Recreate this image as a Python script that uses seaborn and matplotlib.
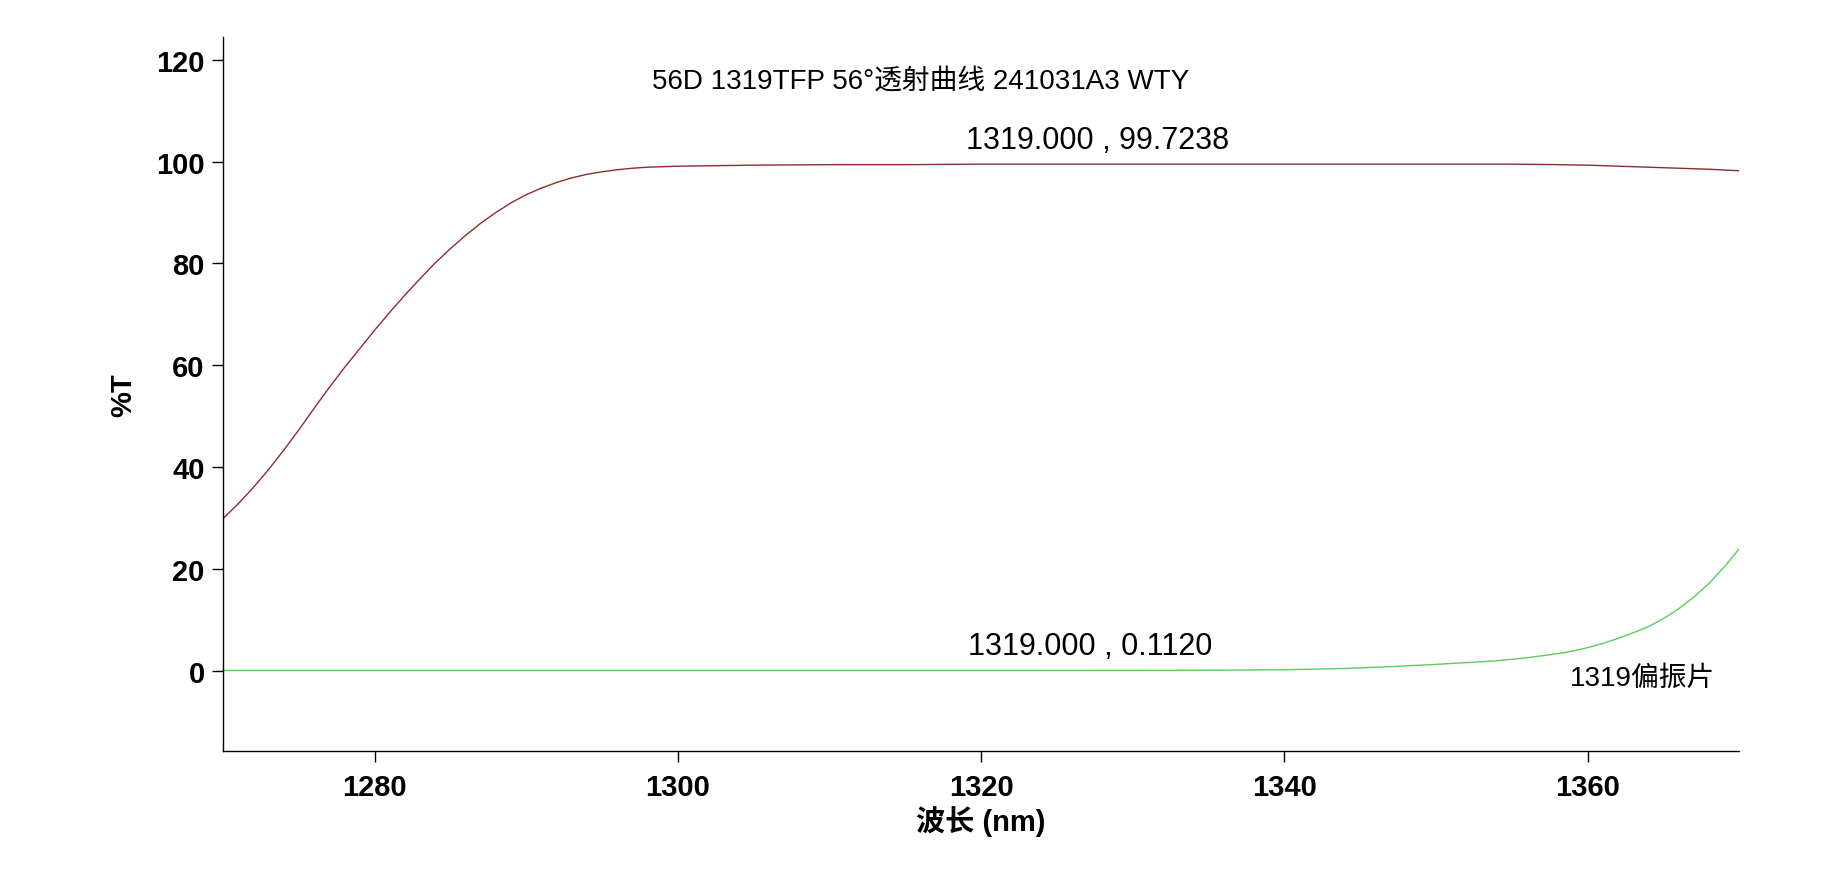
import numpy as np
import pandas as pd
import seaborn as sns
import matplotlib.pyplot as plt

# Dados (comprimento de onda em nm, transmissão em %)
wl_p = [1270, 1271, 1272, 1273, 1274, 1275, 1276, 1277, 1278, 1279,
        1280, 1281, 1282, 1283, 1284, 1285, 1286, 1287, 1288, 1289,
        1290, 1291, 1292, 1293, 1294, 1295, 1296, 1297, 1298, 1299,
        1300, 1305, 1310, 1315, 1320, 1330, 1340, 1350, 1355, 1358,
        1360, 1362, 1364, 1366, 1368, 1370]
t_p = [29.9, 32.8, 36.0, 39.5, 43.3, 47.3, 51.5, 55.6, 59.5, 63.2,
       66.9, 70.4, 73.8, 77.0, 80.1, 82.9, 85.5, 87.9, 90.0, 91.9,
       93.5, 94.8, 95.9, 96.8, 97.5, 98.0, 98.4, 98.7, 98.9, 99.0,
       99.1, 99.3, 99.4, 99.4, 99.5, 99.5, 99.5, 99.5, 99.5, 99.4,
       99.3, 99.1, 98.9, 98.7, 98.5, 98.2]

wl_s = [1270, 1280, 1290, 1300, 1310, 1320, 1330, 1335, 1340, 1344,
        1347, 1350, 1352, 1354, 1355, 1356, 1357, 1358, 1359, 1360,
        1361, 1362, 1363, 1364, 1365, 1366, 1367, 1368, 1369, 1370]
t_s = [0.11, 0.11, 0.11, 0.11, 0.11, 0.11, 0.12, 0.15, 0.25, 0.5,
       0.85, 1.3, 1.65, 2.0, 2.3, 2.6, 3.0, 3.4, 3.9, 4.6,
       5.4, 6.4, 7.5, 8.7, 10.3, 12.2, 14.5, 17.2, 20.4, 24.0]

x_ticks = [1280, 1300, 1320, 1340, 1360]
y_ticks = [0, 20, 40, 60, 80, 100, 120]

title_txt = '56D 1319TFP 56°透射曲线 241031A3 WTY'
note_p = '1319.000 , 99.7238'
note_s = '1319.000 , 0.1120'
curve_label = '1319偏振片'

RED = '#8b2d2d'
GREEN = '#5ccc5c'

sns.set_theme(style='ticks')
plt.rcParams['font.family'] = ['Liberation Sans', 'Noto Sans CJK SC', 'DejaVu Sans']
plt.rcParams['text.color'] = 'black'
plt.rcParams['axes.labelcolor'] = 'black'

df_p = pd.DataFrame({'wl': wl_p, 't': t_p})
df_s = pd.DataFrame({'wl': wl_s, 't': t_s})

fig, ax = plt.subplots(figsize=(18.27, 8.79), dpi=100)
fig.subplots_adjust(left=0.122, right=0.952, top=0.957, bottom=0.1445)

sns.lineplot(data=df_p, x='wl', y='t', color=RED, linewidth=1.0, ax=ax)
sns.lineplot(data=df_s, x='wl', y='t', color=GREEN, linewidth=1.0, ax=ax)

ax.set_xlim(1270, 1370)
ax.set_ylim(-15.7, 124.5)
ax.set_xticks(x_ticks)
ax.set_yticks(y_ticks)
ax.tick_params(axis='both', length=8, width=1.0, color='black',
               labelsize=21, labelcolor='black')
ax.tick_params(axis='x', pad=8)
ax.tick_params(axis='y', pad=5)
for lbl in ax.get_xticklabels() + ax.get_yticklabels():
    lbl.set_fontweight('bold')

sns.despine(ax=ax)
for side in ['left', 'bottom']:
    ax.spines[side].set_color('black')
    ax.spines[side].set_linewidth(1.0)

ax.set_xlabel('波长 (nm)', fontsize=21, fontweight='bold', labelpad=3)
ax.set_ylabel('%T', fontsize=21, fontweight='bold', labelpad=14)

ax.text(1316.0, 115.8, title_txt, fontsize=20, ha='center', va='center')
ax.text(1327.7, 104.3, note_p, fontsize=22, ha='center', va='center')
ax.text(1327.2, 4.9, note_s, fontsize=22, ha='center', va='center')
ax.text(1363.6, -1.3, curve_label, fontsize=20, ha='center', va='center')

fig.savefig('out.png', dpi=100)
